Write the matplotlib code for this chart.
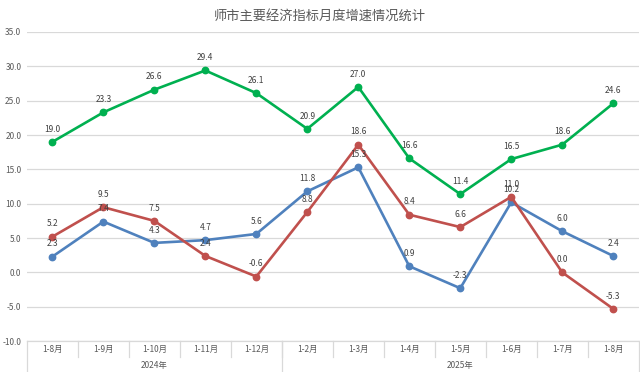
import matplotlib
matplotlib.use('Agg')
import matplotlib.pyplot as plt
import matplotlib.transforms as mtransforms

plt.rcParams['font.family'] = ['Noto Sans CJK SC', 'DejaVu Sans']

# data
months = ['1-8月', '1-9月', '1-10月', '1-11月', '1-12月', '1-2月', '1-3月',
          '1-4月', '1-5月', '1-6月', '1-7月', '1-8月']
years = ['2024年', '2025年']
year_sizes = [5, 7]
green_vals = [19.0, 23.3, 26.6, 29.4, 26.1, 20.9, 27.0, 16.6, 11.4, 16.5, 18.6, 24.6]
blue_vals = [2.3, 7.4, 4.3, 4.7, 5.6, 11.8, 15.3, 0.9, -2.3, 10.2, 6.0, 2.4]
red_vals = [5.2, 9.5, 7.5, 2.4, -0.6, 8.8, 18.6, 8.4, 6.6, 11.0, 0.0, -5.3]

fig = plt.figure(figsize=(6.4, 3.72), dpi=100)
ax = fig.add_axes([0.042, 0.083, 0.956, 0.831])

x = list(range(len(months)))
series = [(blue_vals, '#4F81BD'), (red_vals, '#C0504D'), (green_vals, '#00B050')]
for vals, col in series:
    ax.plot(x, vals, color=col, lw=1.9, marker='o', ms=4.6, zorder=3)
    for xi, v in zip(x, vals):
        ax.annotate(f'{v:.1f}', (xi, v), xytext=(0, 6), textcoords='offset points',
                    ha='center', va='bottom', fontsize=6, color='#404040', zorder=4)

ax.set_xlim(-0.5, len(months) - 0.5)
ax.set_ylim(-10, 35)
ax.set_yticks(range(-10, 36, 5))
ax.set_yticklabels([f'{t:.1f}' for t in range(-10, 36, 5)], fontsize=6, color='#595959')
ax.tick_params(axis='y', length=0, pad=4)
ax.set_xticks([])
ax.grid(axis='y', color='#D9D9D9', lw=0.9)
ax.set_axisbelow(True)
for s in ['top', 'right', 'left']:
    ax.spines[s].set_visible(False)
ax.spines['bottom'].set_color('#D9D9D9')
ax.spines['bottom'].set_linewidth(0.9)

# two-level category axis
trans = mtransforms.blended_transform_factory(ax.transData, ax.transAxes)
for xi, m in zip(x, months):
    ax.text(xi, -0.027, m, transform=trans, ha='center', va='center',
            fontsize=6, color='#595959')
for b in range(1, len(months)):
    ax.plot([b - 0.5, b - 0.5], [0, -0.052], transform=trans, color='#D9D9D9',
            lw=0.9, clip_on=False)
start = 0
edges = [-0.5]
for yname, n in zip(years, year_sizes):
    ax.text(start + (n - 1) / 2, -0.08, yname, transform=trans, ha='center',
            va='center', fontsize=6, color='#595959')
    start += n
    edges.append(start - 0.5)
for e in edges:
    ax.plot([e, e], [0, -0.11], transform=trans, color='#D9D9D9', lw=0.9,
            clip_on=False)

fig.text(0.5, 0.955, '师市主要经济指标月度增速情况统计', ha='center', va='center',
         fontsize=9.5, color='#595959')

fig.savefig('out.png', dpi=100)
